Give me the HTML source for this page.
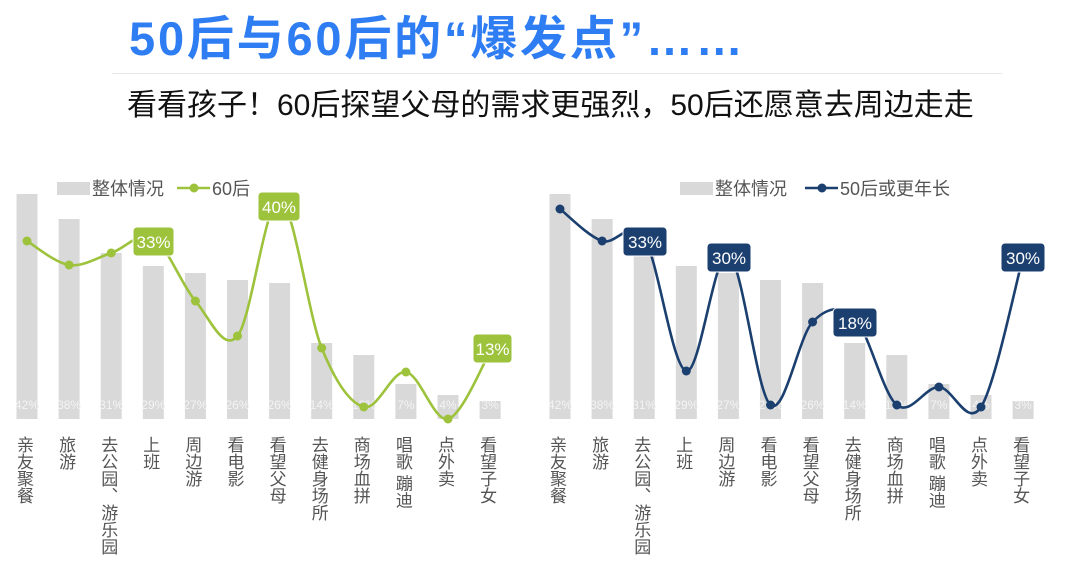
<!DOCTYPE html>
<html><head><meta charset="utf-8">
<style>
body{margin:0;background:#fff;width:1080px;height:562px;overflow:hidden;position:relative;font-family:"Liberation Sans","Noto Sans CJK SC",sans-serif}
.t{position:absolute;left:129px;top:0px;font-size:47px;font-weight:bold;color:#2f7df3;white-space:nowrap;letter-spacing:2.8px}
.s{position:absolute;left:127px;top:80px;font-size:30px;color:#111;white-space:nowrap;letter-spacing:0px}
.hr{position:absolute;left:112px;top:73px;width:890px;height:1px;background:#e8e8e8}
.xl{position:absolute;top:436px;writing-mode:vertical-rl;font-size:17px;line-height:17px;color:#555;letter-spacing:0px;white-space:nowrap}
</style></head><body>
<div class="t">50后与60后的“爆发点”……</div>
<div class="hr"></div>
<div class="s">看看孩子！60后探望父母的需求更强烈，50后还愿意去周边走走</div>
<svg id="c" width="1080" height="562" style="position:absolute;left:0;top:0" font-family="Liberation Sans, Noto Sans CJK SC, sans-serif"></svg>
<div id="xl"></div>
<script>
var tops=[194,219,253,266,273,280,283,343,355,384,395,401];
var pct=["42%","38%","31%","29%","27%","26%","26%","14%","12%","7%","4%","3%"];
var labs=["亲友聚餐","旅游","去公园、游乐园","上班","周边游","看电影","看望父母","去健身场所","商场血拼","唱歌 蹦迪","点外卖","看望子女"];
var s="";var xh="";
function path(xs,ys){var d="M"+xs[0]+","+ys[0];for(var i=0;i<xs.length-1;i++){var p0=i>0?i-1:i,p3=i+2<xs.length?i+2:i+1;
var c1x=xs[i]+(xs[i+1]-xs[p0])/6,c1y=ys[i]+(ys[i+1]-ys[p0])/6,c2x=xs[i+1]-(xs[p3]-xs[i])/6,c2y=ys[i+1]-(ys[p3]-ys[i])/6;
d+=" C"+c1x+","+c1y+" "+c2x+","+c2y+" "+xs[i+1]+","+ys[i+1];}return d;}
function chart(x0,ys,col,lbls,leg){var xs=[];
for(var i=0;i<12;i++){var cx=x0+42.1*i;xs.push(cx);
s+='<rect x="'+(cx-10.5)+'" y="'+tops[i]+'" width="21" height="'+(419-tops[i])+'" fill="#d9d9d9"/>';
s+='<text x="'+cx+'" y="409" font-size="12" fill="#f4f4f4" text-anchor="middle">'+pct[i]+'</text>';
xh+='<div class="xl" style="left:'+(cx-12)+'px">'+labs[i]+'</div>';}
s+='<path d="'+path(xs,ys)+'" fill="none" stroke="'+col+'" stroke-width="2.6"/>';
for(var i=0;i<12;i++){s+='<circle cx="'+xs[i]+'" cy="'+ys[i]+'" r="4.5" fill="'+col+'"/>';}
lbls.forEach(function(l){s+='<rect x="'+l[0]+'" y="'+l[1]+'" width="'+l[2]+'" height="29" rx="4" fill="'+col+'" stroke="#fff" stroke-width="1"/><text x="'+(l[0]+l[2]/2)+'" y="'+(l[1]+21)+'" font-size="17" fill="#fff" text-anchor="middle">'+l[3]+'</text>';});
s+='<rect x="'+leg[0]+'" y="182" width="33" height="13" fill="#d9d9d9"/><text x="'+(leg[0]+35)+'" y="195" font-size="18" fill="#555">整体情况</text>';
s+='<line x1="'+leg[1]+'" y1="188" x2="'+(leg[1]+33)+'" y2="188" stroke="'+col+'" stroke-width="2.6"/><circle cx="'+(leg[1]+17)+'" cy="188" r="4.5" fill="'+col+'"/><text x="'+(leg[1]+35)+'" y="195" font-size="18" fill="#555">'+leg[2]+'</text>';}
chart(27,[241,265,253,238,301,336,200,348,407,372,419,352],"#9dc23b",[[133,227,41,"33%"],[258,192,42,"40%"],[473,334,39,"13%"]],[57,177,"60后"]);
chart(560,[209,241,238,371,255,405,322,318,405,387,407,257],"#1b3f6f",[[623,227,44,"33%"],[707,243,44,"30%"],[833,308,44,"18%"],[1001,243,44,"30%"]],[680,805,"50后或更年长"]);
document.getElementById("c").innerHTML=s;document.getElementById("xl").innerHTML=xh;
</script>
</body></html>
